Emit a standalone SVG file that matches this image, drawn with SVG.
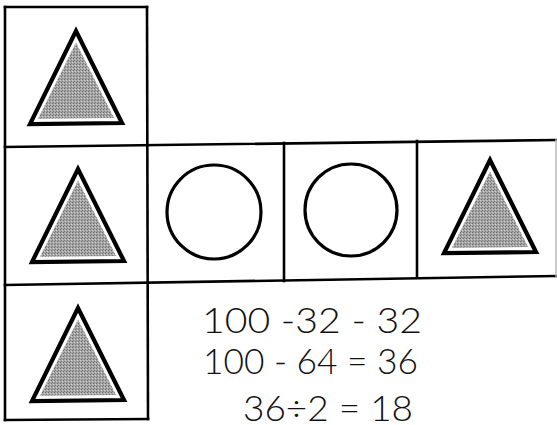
<svg xmlns="http://www.w3.org/2000/svg" width="557" height="425" viewBox="0 0 557 425">
  <style>
    .grid line { stroke: #000; stroke-width: 2.6; stroke-linecap: square; }
    .tri-out { fill: #fff; stroke: #000; stroke-width: 4.2; stroke-linejoin: miter; }
    .tri-in { fill: url(#dither); }
    .circ { fill: #fff; stroke: #000; stroke-width: 3.2; }
    .hand { font-family: "Lato", "Liberation Sans", sans-serif; font-weight: 300; font-size: 35px; fill: #111; }
  </style>
  <defs>
    <pattern id="dither" width="3" height="3" patternUnits="userSpaceOnUse">
      <rect width="3" height="3" fill="#a6a6a6"/>
      <rect x="0" y="0" width="1" height="1" fill="#6e6e6e"/>
      <rect x="2" y="1" width="1" height="1" fill="#d0d0d0"/>
      <rect x="1" y="2" width="1" height="1" fill="#7c7c7c"/>
    </pattern>
    <g id="triangle">
      <polygon class="tri-out" points="0,0 -46,93 46,92"/>
      <polygon class="tri-in" points="0,11.5 -38,87.8 38,87"/>
    </g>
  </defs>
  <rect width="557" height="425" fill="#fff"/>

  <g id="grid" class="grid">
    <line x1="5" y1="7" x2="147" y2="7"/>
    <line x1="5" y1="7" x2="5" y2="420"/>
    <line x1="147" y1="7" x2="148" y2="419"/>
    <line x1="5" y1="147" x2="556" y2="140"/>
    <line x1="5" y1="285" x2="556" y2="276"/>
    <line x1="284" y1="143" x2="284" y2="281"/>
    <line x1="417" y1="141" x2="417" y2="277"/>
    <line x1="556" y1="140" x2="556" y2="276" style="stroke:#bbb;stroke-width:1.5"/>
    <line x1="5" y1="420" x2="148" y2="419"/>
  </g>

  <g id="cell-r1c1"><use href="#triangle" x="76" y="31"/></g>
  <g id="cell-r2c1"><use href="#triangle" x="78" y="169"/></g>
  <g id="cell-r2c2"><circle class="circ" cx="214" cy="212" r="47"/></g>
  <g id="cell-r2c3"><circle class="circ" cx="351" cy="210" r="46"/></g>
  <g id="cell-r2c4"><use href="#triangle" x="490" y="160"/></g>
  <g id="cell-r3c1"><use href="#triangle" x="78" y="308"/></g>

  <g id="working" class="hand">
    <text x="202" y="333" textLength="220" lengthAdjust="spacingAndGlyphs">100 -32 - 32</text>
    <text x="203" y="374" textLength="215" lengthAdjust="spacingAndGlyphs">100 - 64 = 36</text>
    <text x="243" y="421" textLength="170" lengthAdjust="spacingAndGlyphs">36÷2 = 18</text>
  </g>
</svg>
